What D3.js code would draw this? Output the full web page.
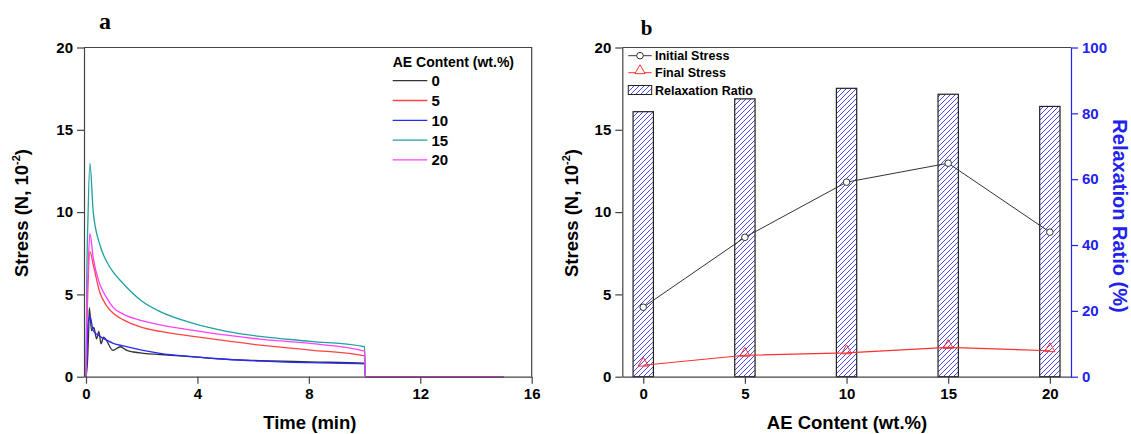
<!DOCTYPE html>
<html>
<head>
<meta charset="utf-8">
<script src="https://cdn.jsdelivr.net/npm/d3@7/dist/d3.min.js"></script>
<style>
  body { margin: 0; background: #fff; }
  svg { font-family: "Liberation Sans", Arial, sans-serif; }
</style>
</head>
<body>
<svg id="chart" width="1131" height="434"></svg>
<script>
// ---- panel a: stress relaxation curves (time in min, stress in N x 10^-2)
const timeA = [0, 0.03, 0.07, 0.14, 0.26, 0.5, 0.74, 0.98, 1.34, 2.0, 2.66, 3.85, 5.05, 6.25, 8.04, 10, 10.03, 15];
const stress5  = [0, 3.0, 5.5, 7.6, 6.8, 5.1, 4.3, 3.85, 3.45, 3.0, 2.75, 2.45, 2.18, 1.92, 1.62, 1.26, 0, 0];
const stress10 = [0, 1.0, 3.2, 3.7, 2.8, 2.45, 2.22, 2.03, 1.87, 1.62, 1.42, 1.22, 1.06, 0.95, 0.85, 0.78, 0, 0];
const stress15 = [0, 6.2, 9.6, 12.97, 10.0, 8.0, 7.0, 6.35, 5.65, 4.6, 3.95, 3.24, 2.76, 2.45, 2.15, 1.82, 0, 0];
const stress20 = [0, 4.0, 6.3, 8.7, 7.2, 5.6, 4.8, 4.2, 3.8, 3.4, 3.15, 2.82, 2.52, 2.28, 2.02, 1.56, 0, 0];
const time0    = [0, 0.05, 0.1, 0.12, 0.2, 0.28, 0.38, 0.46, 0.54, 0.63, 0.97, 1.23, 1.47, 1.71, 2.07, 2.66, 3.85, 5.05, 6.25, 8.04, 10, 10.03, 15];
const stress0  = [0, 0.8, 3.0, 4.2, 2.8, 3.0, 2.3, 2.75, 2.0, 2.4, 1.6, 1.82, 1.6, 1.5, 1.42, 1.35, 1.2, 1.05, 0.98, 0.9, 0.82, 0, 0];

const seriesLabels = ['0', '5', '10', '15', '20'];
const seriesColors = ['#333333', '#ff4444', '#2a2aff', '#20a0a0', '#ff40ff'];
const xTicksA = [0, 4, 8, 12, 16];
const yTicks = [0, 5, 10, 15, 20];

// ---- panel b: summary vs AE content
const aeContent = [0, 5, 10, 15, 20];
const initialStress = [4.22, 8.47, 11.82, 12.97, 8.78];
const finalStress = [0.7, 1.3, 1.45, 1.78, 1.58];
const relaxRatio = [80.5, 84.4, 87.6, 85.8, 82.1];
const rightTicks = [0, 20, 40, 60, 80, 100];

const svg = d3.select('#chart');
const axisColor = '#444';
const blue = '#2222ee';
const serif = '"Liberation Serif", "Times New Roman", serif';

const defs = svg.append('defs');
const hatch = defs.append('pattern')
  .attr('id', 'hatch')
  .attr('patternUnits', 'userSpaceOnUse')
  .attr('width', 5).attr('height', 5);
hatch.append('rect').attr('width', 5).attr('height', 5).attr('fill', '#fff');
hatch.append('path')
  .attr('d', 'M-1,1 l2,-2 M0,5 l5,-5 M4,6 l2,-2')
  .attr('stroke', '#4a4ae6').attr('stroke-width', 1);

function styleAxis(g, color) {
  g.attr('font-size', 15).attr('font-weight', 'bold').attr('font-family', null);
  g.selectAll('path, line').attr('stroke', color).attr('stroke-width', 1.2);
  g.selectAll('text').attr('fill', color === axisColor ? '#000' : color);
}

// ================= panel a =================
const a = { left: 84, right: 531.7, top: 47.5, bottom: 376.7 };
const xA = d3.scaleLinear().domain([-0.072, 16]).range([a.left, a.right]);
const yA = d3.scaleLinear().domain([0, 20]).range([a.bottom, a.top]);

const gA = svg.append('g');

const seriesA = [
  { t: time0, v: stress0 },
  { t: timeA, v: stress5 },
  { t: timeA, v: stress10 },
  { t: timeA, v: stress15 },
  { t: timeA, v: stress20 }
];

const lineA = d3.line().x(d => xA(d[0])).y(d => yA(d[1])).curve(d3.curveMonotoneX);

gA.selectAll('.curve')
  .data(seriesA)
  .enter().append('path')
  .attr('class', 'curve')
  .attr('fill', 'none')
  .attr('stroke', (d, i) => seriesColors[i])
  .attr('stroke-width', 1.3)
  .attr('d', d => lineA(d.t.map((t, k) => [t, d.v[k]])));

// frame top/right
gA.append('path')
  .attr('d', `M${a.left},${a.top}H${a.right}V${a.bottom}`)
  .attr('fill', 'none').attr('stroke', axisColor).attr('stroke-width', 1.2);

gA.append('g')
  .attr('transform', `translate(${a.left},0)`)
  .call(d3.axisLeft(yA).tickValues(yTicks).tickSize(7).tickPadding(4).tickSizeOuter(0))
  .call(g => styleAxis(g, axisColor));

gA.append('g')
  .attr('transform', `translate(0,${a.bottom})`)
  .call(d3.axisBottom(xA).tickValues(xTicksA).tickSize(7).tickPadding(5).tickSizeOuter(0))
  .call(g => styleAxis(g, axisColor));

gA.append('text')
  .attr('x', (a.left + a.right) / 2 + 2).attr('y', 429)
  .attr('text-anchor', 'middle').attr('font-size', 18.5).attr('font-weight', 'bold')
  .text('Time (min)');

const yTitleA = gA.append('text')
  .attr('transform', 'translate(28,213) rotate(-90)')
  .attr('text-anchor', 'middle').attr('font-size', 18.5).attr('font-weight', 'bold');
yTitleA.append('tspan').text('Stress (N, 10');
yTitleA.append('tspan').attr('font-size', 11).attr('dy', -8).text('-2');
yTitleA.append('tspan').attr('dy', 8).text(')');

gA.append('text')
  .attr('x', 105).attr('y', 29)
  .attr('text-anchor', 'middle')
  .style('font-family', serif)
  .attr('font-weight', 'bold').attr('font-size', 24)
  .text('a');

// legend a
const legA = gA.append('g');
legA.append('text')
  .attr('x', 392.7).attr('y', 66.5)
  .attr('font-size', 14).attr('font-weight', 'bold')
  .text('AE Content (wt.%)');
seriesLabels.forEach((lab, i) => {
  const yy = 80.7 + i * 19.8;
  legA.append('line')
    .attr('x1', 392.7).attr('x2', 427.3).attr('y1', yy).attr('y2', yy)
    .attr('stroke', seriesColors[i]).attr('stroke-width', 1.3);
  legA.append('text')
    .attr('x', 431.5).attr('y', yy + 5.5)
    .attr('font-size', 15).attr('font-weight', 'bold')
    .text(lab);
});

// ================= panel b =================
const b = { left: 622.3, right: 1071, top: 47.5, bottom: 376.7 };
const xB = d3.scaleLinear().domain([-1.03, 21.04]).range([b.left, b.right]);
const yB = d3.scaleLinear().domain([0, 20]).range([b.bottom, b.top]);
const yR = d3.scaleLinear().domain([0, 100]).range([b.bottom, b.top]);

const gB = svg.append('g');
const barW = xB(0.5) - xB(-0.5);

gB.selectAll('.bar')
  .data(aeContent)
  .enter().append('rect')
  .attr('class', 'bar')
  .attr('x', d => xB(d) - barW / 2)
  .attr('width', barW)
  .attr('y', (d, i) => yR(relaxRatio[i]))
  .attr('height', (d, i) => b.bottom - yR(relaxRatio[i]))
  .attr('fill', 'url(#hatch)')
  .attr('stroke', '#222').attr('stroke-width', 1.2);

const lineB = d3.line().x(d => xB(d[0])).y(d => yB(d[1]));

gB.append('path')
  .attr('d', lineB(aeContent.map((c, i) => [c, finalStress[i]])))
  .attr('fill', 'none').attr('stroke', '#ff3030').attr('stroke-width', 1.1);

gB.append('path')
  .attr('d', lineB(aeContent.map((c, i) => [c, initialStress[i]])))
  .attr('fill', 'none').attr('stroke', '#333').attr('stroke-width', 1);

const tri = d3.symbol().type(d3.symbolTriangle).size(45);

gB.selectAll('.tri')
  .data(aeContent)
  .enter().append('path')
  .attr('class', 'tri')
  .attr('transform', (d, i) => `translate(${xB(d)},${yB(finalStress[i]) - 2})`)
  .attr('d', tri)
  .attr('fill', 'none').attr('stroke', '#ff3030').attr('stroke-width', 1);

gB.selectAll('.circ')
  .data(aeContent)
  .enter().append('circle')
  .attr('class', 'circ')
  .attr('cx', d => xB(d))
  .attr('cy', (d, i) => yB(initialStress[i]))
  .attr('r', 3.3)
  .attr('fill', '#fff').attr('stroke', '#333').attr('stroke-width', 1);

// frame top
gB.append('line')
  .attr('x1', b.left).attr('x2', b.right).attr('y1', b.top).attr('y2', b.top)
  .attr('stroke', axisColor).attr('stroke-width', 1.2);

gB.append('g')
  .attr('transform', `translate(${b.left},0)`)
  .call(d3.axisLeft(yB).tickValues(yTicks).tickSize(7).tickPadding(4).tickSizeOuter(0))
  .call(g => styleAxis(g, axisColor));

gB.append('g')
  .attr('transform', `translate(0,${b.bottom})`)
  .call(d3.axisBottom(xB).tickValues(aeContent).tickSize(7).tickPadding(5).tickSizeOuter(0))
  .call(g => styleAxis(g, axisColor));

gB.append('g')
  .attr('transform', `translate(${b.right},0)`)
  .call(d3.axisRight(yR).tickValues(rightTicks).tickSize(7).tickPadding(4).tickSizeOuter(0))
  .call(g => styleAxis(g, blue));

gB.append('text')
  .attr('x', 847).attr('y', 429)
  .attr('text-anchor', 'middle').attr('font-size', 18.5).attr('font-weight', 'bold')
  .text('AE Content (wt.%)');

const yTitleB = gB.append('text')
  .attr('transform', 'translate(578,213) rotate(-90)')
  .attr('text-anchor', 'middle').attr('font-size', 18.5).attr('font-weight', 'bold');
yTitleB.append('tspan').text('Stress (N, 10');
yTitleB.append('tspan').attr('font-size', 11).attr('dy', -8).text('-2');
yTitleB.append('tspan').attr('dy', 8).text(')');

gB.append('text')
  .attr('transform', 'translate(1113,216) rotate(90)')
  .attr('text-anchor', 'middle').attr('font-size', 20).attr('font-weight', 'bold')
  .attr('fill', blue)
  .text('Relaxation Ratio (%)');

gB.append('text')
  .attr('x', 646.7).attr('y', 35)
  .attr('text-anchor', 'middle')
  .style('font-family', serif)
  .attr('font-weight', 'bold').attr('font-size', 21)
  .text('b');

// legend b
const legB = gB.append('g');
const lx0 = 628.3, lx1 = 651.7;
legB.append('line').attr('x1', lx0).attr('x2', lx1).attr('y1', 55.7).attr('y2', 55.7)
  .attr('stroke', '#333').attr('stroke-width', 1);
legB.append('circle').attr('cx', (lx0 + lx1) / 2).attr('cy', 55.7).attr('r', 3.3)
  .attr('fill', '#fff').attr('stroke', '#333');
legB.append('line').attr('x1', lx0).attr('x2', lx1).attr('y1', 72.7).attr('y2', 72.7)
  .attr('stroke', '#ff3030').attr('stroke-width', 1);
legB.append('path').attr('d', tri)
  .attr('transform', `translate(${(lx0 + lx1) / 2},${72.7 - 2})`)
  .attr('fill', '#fff').attr('stroke', '#ff3030');
legB.append('rect').attr('x', lx0).attr('y', 85.5).attr('width', lx1 - lx0).attr('height', 9)
  .attr('fill', 'url(#hatch)').attr('stroke', '#222').attr('stroke-width', 1);

['Initial Stress', 'Final Stress', 'Relaxation Ratio'].forEach((t, i) => {
  legB.append('text')
    .attr('x', 655).attr('y', [55.7, 72.7, 90][i] + 4.5)
    .attr('font-size', 12.5).attr('font-weight', 'bold')
    .text(t);
});
</script>
</body>
</html>
